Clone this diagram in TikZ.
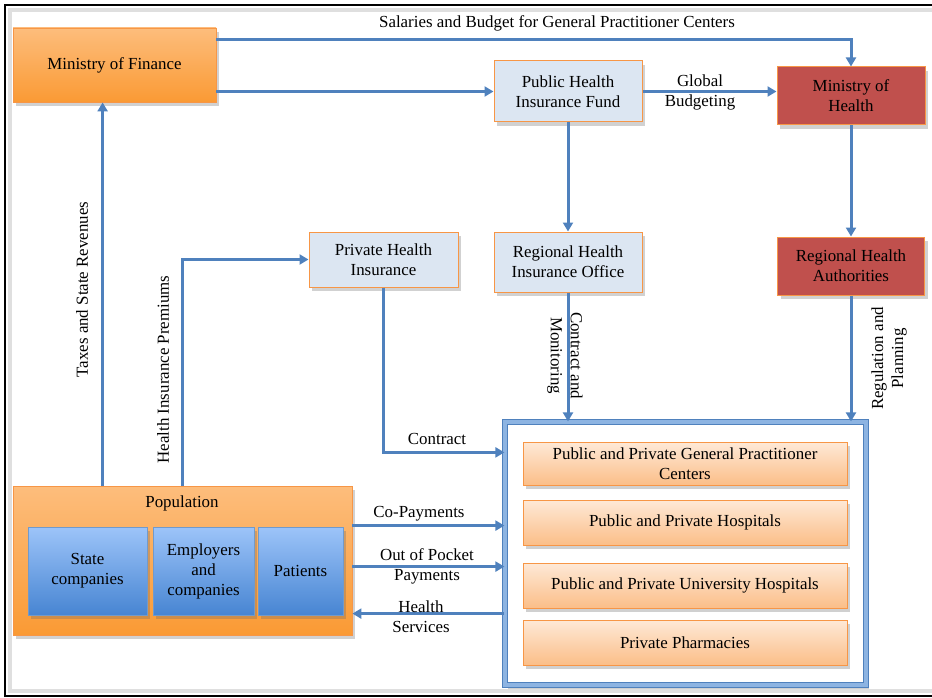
\documentclass[tikz,border=0pt]{standalone}
\usepackage{fontspec}
\setmainfont{Liberation Serif}
\usetikzlibrary{arrows.meta,calc,shadows}
\definecolor{connblue}{HTML}{4F81BD}
\definecolor{frameblue}{HTML}{8DB4E2}
\definecolor{boxorange}{HTML}{F79646}
\definecolor{orangetop}{HTML}{FDBD7C}
\definecolor{orangebot}{HTML}{FA9A34}
\definecolor{lightblue}{HTML}{DCE6F2}
\definecolor{redbox}{HTML}{C0504D}
\definecolor{bluetop}{HTML}{9DC4F9}
\definecolor{bluebot}{HTML}{4785D2}
\definecolor{peachtop}{HTML}{FEE9D7}
\definecolor{peachbot}{HTML}{FBBE88}
\begin{document}
\begin{tikzpicture}[x=1pt,y=-1pt,
  font=\fontsize{16.9}{20}\selectfont,
  every node/.style={inner sep=0pt, align=center},
  shad/.style={drop shadow={shadow xshift=3pt, shadow yshift=-4pt, opacity=0.3, fill=black!60}},
  orangebox/.style={shad, draw=boxorange, line width=0.8pt, top color=orangetop, bottom color=orangebot},
  paleblue/.style={shad, draw=boxorange, line width=1pt, fill=lightblue},
  redsq/.style={shad, draw=boxorange, line width=1pt, fill=redbox},
  bluebox/.style={shad, draw=connblue!80, line width=0.8pt, top color=bluetop, bottom color=bluebot},
  peachbox/.style={shad, draw=boxorange, line width=1pt, top color=peachtop, bottom color=peachbot, minimum width=324pt},
  conn/.style={draw=connblue, line width=3pt, -{Triangle[length=9pt,width=10pt]}},
  lbl/.style={fill=none, yshift=-1.5pt}
]
\useasboundingbox (0,0) rectangle (932,698);
% page frame
\draw[gray!25, line width=4pt] (10,10) rectangle (940,691);
\draw[black, line width=2pt] (5,5) rectangle (940,696);

% boxes
\node[orangebox, minimum width=203pt, minimum height=74pt] (mof) at (114.5,65) {Ministry of Finance};
\node[paleblue, minimum width=148pt, minimum height=61pt] (phif) at (568,91.5) {Public Health\\Insurance Fund};
\node[redsq, minimum width=148pt, minimum height=58pt] (moh) at (851,96) {Ministry of\\Health};
\node[paleblue, minimum width=148pt, minimum height=60pt] (rhio) at (568,262) {Regional Health\\Insurance Office};
\node[redsq, minimum width=147pt, minimum height=58pt] (rha) at (851,266) {Regional Health\\Authorities};
\node[paleblue, minimum width=149pt, minimum height=55pt] (phi) at (383.5,259.5) {Private Health\\Insurance};

% population
\node[orangebox, minimum width=339pt, minimum height=149pt] (pop) at (182.5,560.5) {};
\node[lbl] (poplbl) at (182,502) {Population};
\node[bluebox, minimum width=119pt, minimum height=88pt] (state) at (87.5,571) {State\\companies};
\node[bluebox, minimum width=101pt, minimum height=88pt] (empl) at (203.5,571) {Employers\\and\\companies};
\node[bluebox, minimum width=85pt, minimum height=88pt] (pat) at (300.5,571) {Patients};

% providers container
\node[shad, draw=connblue, line width=1.2pt, double=frameblue, double distance=4.5pt, fill=white,
      minimum width=361pt, minimum height=263pt] (cont) at (685.5,553.5) {};
\node[peachbox, minimum height=43pt] (gp) at (685,463.5) {Public and Private General Practitioner\\Centers};
\node[peachbox, minimum height=45pt] (hosp) at (685,522.5) {Public and Private Hospitals};
\node[peachbox, minimum height=45pt] (univ) at (685,585.5) {Public and Private University Hospitals};
\node[peachbox, minimum height=45pt] (pharm) at (685,642.5) {Private Pharmacies};

% connectors
\draw[conn] ($(mof.north east)+(0,12)$) -| (moh.north);
\draw[conn] (mof.east |- phif.west) -- (phif.west);
\draw[conn] (phif.east) -- (phif.east -| moh.west);
\draw[conn] (phif.south) -- (rhio.north);
\draw[conn] (moh.south) -- (rha.north);
\draw[conn] (rhio.south) -- (rhio.south |- cont.north);
\draw[conn] (rha.south) -- (rha.south |- cont.north);
\draw[conn] (phi.south) |- ($(cont.north west)+(0,31)$);
\draw[conn] ($(pop.north west)+(170,0)$) |- (phi.west);
\draw[conn] ($(pop.north west)+(90,0)$) -- ($(mof.south west)+(90,0)$);
\draw[conn] ($(pop.north east)+(0,40)$) coordinate (cp) -- (cp -| cont.west);
\draw[conn] ($(pop.north east)+(0,81)$) coordinate (oop) -- (oop -| cont.west);
\path ($(pop.north east)+(0,128)$) coordinate (hs);
\draw[conn] (hs -| cont.west) -- (hs);

% labels
\node[lbl] (lsal) at (557,22) {Salaries and Budget for General Practitioner Centers};
\node[lbl] (lglob) at (700,91) {Global\\Budgeting};
\node[lbl, rotate=-90] (lcm) at (565,354) {Contract and\\Monitoring};
\node[lbl, rotate=90] (lrp) at (889,357) {Regulation and\\Planning};
\node[lbl, rotate=90] (ltax) at (82,288) {Taxes and State Revenues};
\node[lbl, rotate=90] (lhip) at (163,368) {Health Insurance Premiums};
\node[lbl] (lcon) at (437,437) {Contract};
\node[lbl] (lcp) at (419,512) {Co-Payments};
\node[lbl] (loop) at (427,565) {Out of Pocket\\Payments};
\node[lbl] (lhs) at (421,615) {Health\\Services};
\end{tikzpicture}
\end{document}
